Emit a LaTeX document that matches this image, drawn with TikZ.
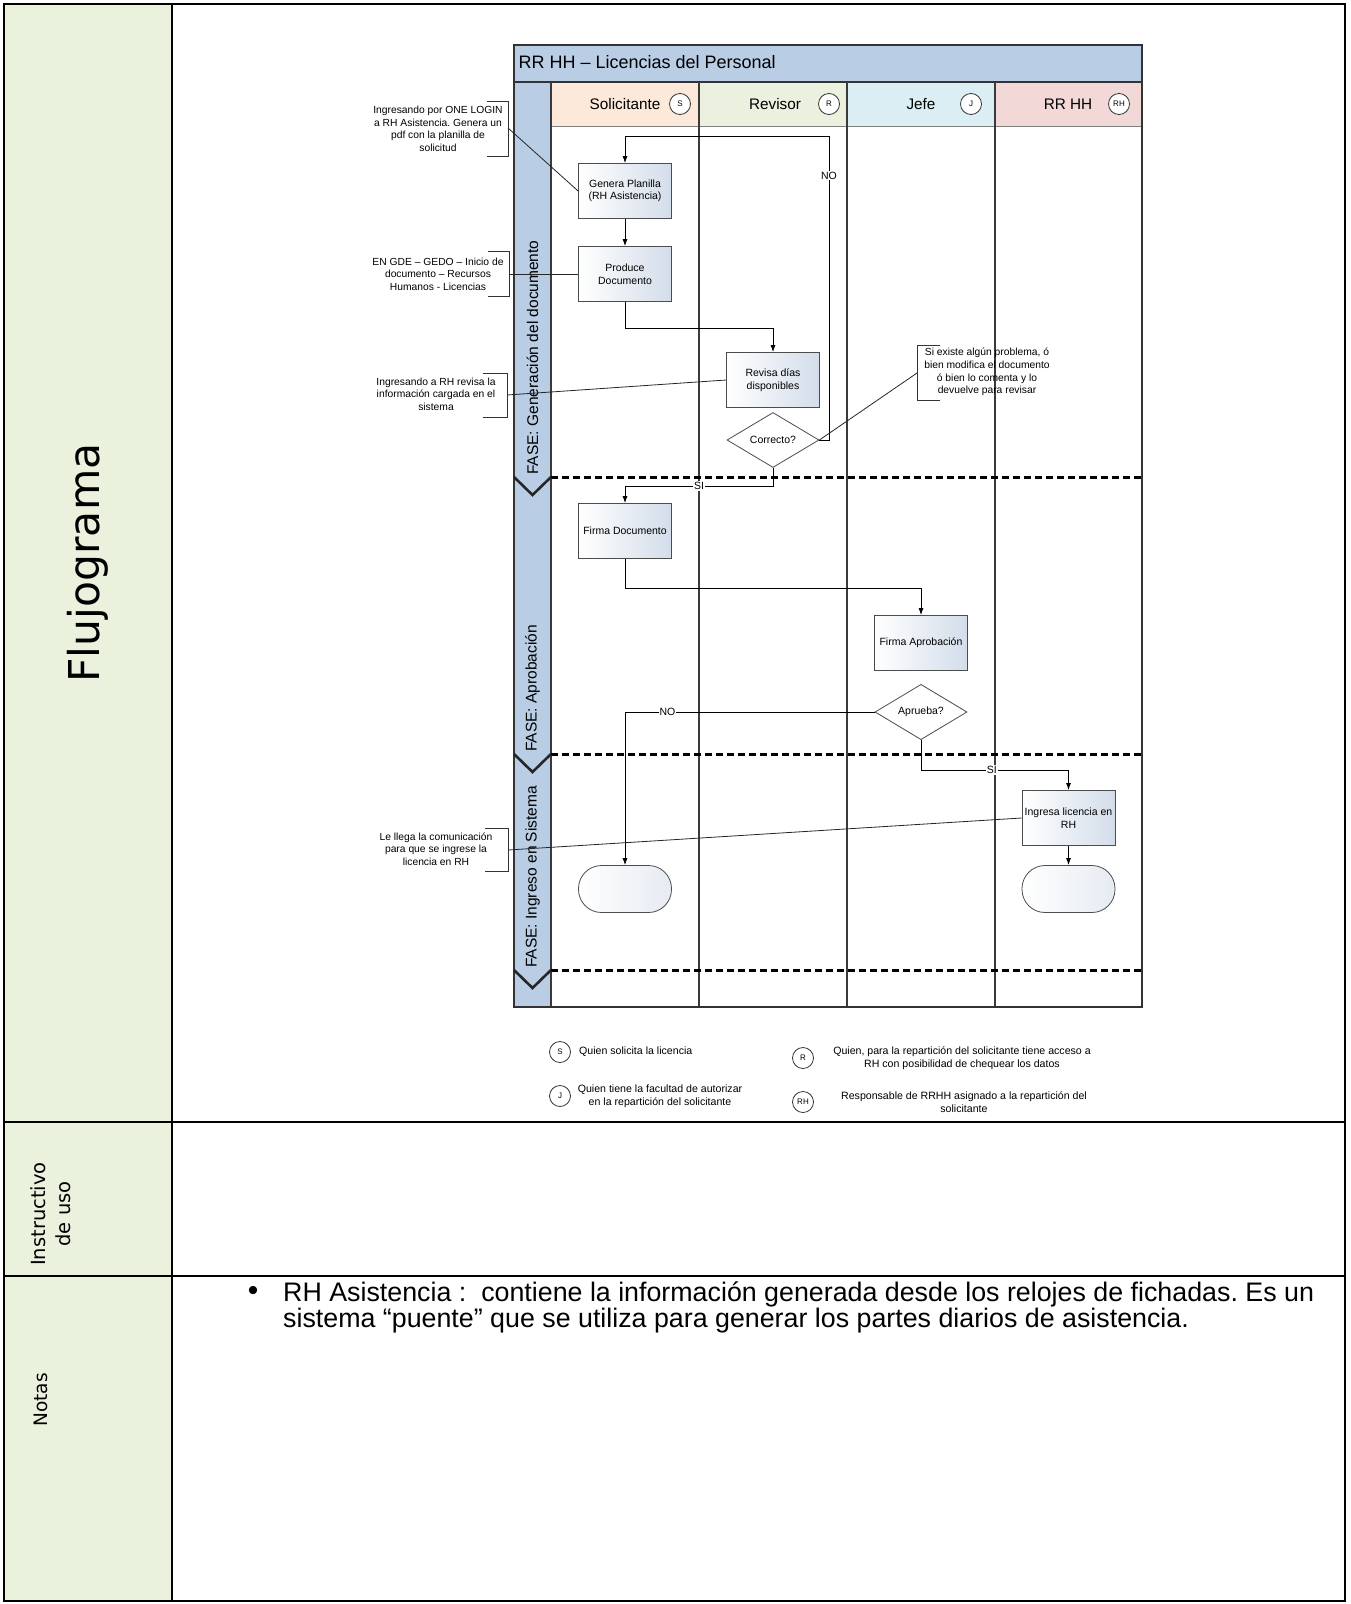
\documentclass[tikz,border=0pt]{standalone}
\usepackage{fontspec}
\setmainfont{Liberation Sans}
\newfontfamily\verd{DejaVu Sans}
\usetikzlibrary{shapes.geometric,arrows.meta,calc}
\definecolor{leftgreen}{HTML}{EAF1DD}
\definecolor{poolblue}{HTML}{B9CDE5}
\definecolor{hsol}{HTML}{FCE9DA}
\definecolor{hrev}{HTML}{EBF1DE}
\definecolor{hjef}{HTML}{DAEEF3}
\definecolor{hrh}{HTML}{F2D9D8}
\definecolor{boxend}{HTML}{D3DDEA}
\definecolor{termfill}{HTML}{E6EBF2}
\definecolor{lanegray}{HTML}{3A3A3A}
\newcommand\fsz[2]{\fontsize{#1}{#2}\selectfont}
\frenchspacing
\begin{document}
\begin{tikzpicture}[x=1pt,y=-1pt,
  tableline/.style={line width=2.2pt,black},
  laneline/.style={line width=1.6pt,lanegray},
  phaseline/.style={line width=3pt,black,dash pattern=on 7pt off 4pt},
  chev/.style={line width=2.6pt,black!85,line join=miter},
  procbox/.style={draw=black!70,line width=0.8pt,left color=white,right color=boxend,
     minimum width=93pt,minimum height=55pt,align=center,inner sep=1pt,font=\fsz{10.5}{12.5}},
  decision/.style={diamond,draw=black!70,line width=0.8pt,fill=white,
     minimum width=92pt,minimum height=55pt,inner sep=0pt,font=\fsz{10.5}{12.5}},
  termbox/.style={draw=black!70,line width=0.8pt,left color=white,right color=termfill,
     rounded corners=23pt,minimum width=93pt,minimum height=47pt},
  conn/.style={draw=black,line width=0.8pt,-{Latex[length=7pt,width=5pt]}},
  lbl/.style={fill=white,inner sep=1pt,font=\fsz{10.5}{12}},
  who/.style={circle,draw=black!80,line width=0.8pt,fill=white,minimum size=21pt,inner sep=0pt,font=\fsz{8}{8}},
  lanehead/.style={font=\fsz{15.3}{17}},
  phase/.style={rotate=90,anchor=west,inner sep=0pt,font=\fsz{15.5}{17}},
  note/.style={align=center,inner sep=0pt,font=\fsz{10.3}{12.6}},
  brk/.style={line width=0.9pt,black!80},
  callout/.style={line width=0.8pt,black!85},
  legtext/.style={align=center,inner sep=0pt,font=\fsz{10.6}{13.5}}
]
\useasboundingbox (0,0) rectangle (1351,1604);
% ---------- table ----------
\fill[leftgreen] (4,4) rectangle (172,1601);
\draw[tableline] (4,4) rectangle (1345,1601);
\draw[tableline] (172,4) -- (172,1601);
\draw[tableline] (4,1122) -- (1345,1122);
\draw[tableline] (4,1276) -- (1345,1276);
\node[rotate=90,font=\verd\fsz{42.5}{46}] (flujo) at (88,563) {Flujograma};
\node[rotate=90,align=center,font=\verd\fsz{19.5}{25}] (instr) at (51,1214) {Instructivo\\de uso};
\node[rotate=90,font=\verd\fsz{18.5}{22}] (notas) at (41,1400) {Notas};
\node[font=\fsz{30}{30}] (bul) at (253,1293) {\textbullet};
\node[anchor=north west,align=left,inner sep=0pt,font=\fsz{26.8}{26}] (notetxt) at (283,1282)
  {RH Asistencia :\ \ contiene la información generada desde los relojes de fichadas. Es un\\
   sistema “puente” que se utiliza para generar los partes diarios de asistencia.};
% ---------- pool ----------
\fill[poolblue] (514,45) rectangle (1142,82);
\fill[poolblue] (514,82) rectangle (551,1007);
\fill[hsol] (551,82) rectangle (699,126);
\fill[hrev] (699,82) rectangle (847,126);
\fill[hjef] (847,82) rectangle (995,126);
\fill[hrh] (995,82) rectangle (1142,126);
\draw[line width=0.6pt,black!50] (551,126) -- (1142,126);
\draw[line width=1.2pt,black!80] (514,82) -- (1142,82);
\foreach \xx in {551,699,847,995} \draw[laneline] (\xx,82) -- (\xx,1007);
\draw[line width=1.4pt,black!80] (514,45) rectangle (1142,1007);
\node[anchor=west,font=\fsz{18}{20}] (title) at (515,62) {RR HH – Licencias del Personal};
\node[lanehead] (hS) at (625,104) {Solicitante};
\node[lanehead] (hR) at (775,104) {Revisor};
\node[lanehead] (hJ) at (921,104) {Jefe};
\node[lanehead] (hH) at (1068,104) {RR HH};
\node[who] (cS) at (680,104) {S};
\node[who] (cR) at (829,104) {R};
\node[who] (cJ) at (971,104) {J};
\node[who] (cH) at (1119,104) {RH};
% phases
\foreach \yy in {477,754,970} {
  \draw[phaseline] (551,\yy) -- (1142,\yy);
  \draw[chev] (514,\yy) -- (532.5,\yy+18) -- (551,\yy);
}
\node[phase] (ph1) at (532.5,475) {FASE: Generación del documento};
\node[phase] (ph2) at (532.5,752) {FASE: Aprobación};
\node[phase] (ph3) at (532.5,968) {FASE: Ingreso en Sistema};
% ---------- flow ----------
\node[procbox] (genera) at (625,191) {Genera Planilla\\(RH Asistencia)};
\node[procbox] (produce) at (625,274) {Produce\\Documento};
\node[procbox] (revisa) at (773,380) {Revisa días\\disponibles};
\node[decision] (correcto) at (773,440) {Correcto?};
\node[procbox] (firmadoc) at (625,531) {Firma Documento};
\node[procbox] (firmaaprob) at (921,643) {Firma Aprobación};
\node[decision] (aprueba) at (921,712) {Aprueba?};
\node[procbox] (ingresa) at (1068.5,818) {Ingresa licencia en\\RH};
\node[termbox] (termL) at (625,889) {};
\node[termbox] (termR) at (1068.5,889) {};
\coordinate (noR) at (829,440);
\coordinate (noT) at (829,136);
\draw[conn] (correcto.east) -- (noR) -- node[lbl,pos=0.87]{NO} (noT) -| (genera.north);
\draw[conn] (genera) -- (produce);
\draw[conn] (produce.south) -- ++(0,26) -| (revisa.north);
\draw[conn] (correcto.south) -- ++(0,18) -| node[lbl,pos=0.25]{SI} (firmadoc.north);
\draw[conn] (firmadoc.south) -- ++(0,29) -| (firmaaprob.north);
\draw[conn] (aprueba.west) -| node[lbl,pos=0.415]{NO} (termL.north);
\draw[conn] (aprueba.south) -- ++(0,30) -| node[lbl,pos=0.24]{SI} (ingresa.north);
\draw[conn] (ingresa) -- (termR);
% ---------- callouts ----------
\node[note] (n1) at (438,129) {Ingresando por ONE LOGIN\\a RH Asistencia. Genera un\\pdf con la planilla de\\solicitud};
\draw[brk] (487,101) -- (508,101) -- (508,156) -- (487,156);
\coordinate (b1) at (508,128);
\draw[callout] (b1) -- (genera.west);
\node[note] (n2) at (438,274) {EN GDE – GEDO – Inicio de\\documento – Recursos\\Humanos - Licencias};
\draw[brk] (488,251) -- (509,251) -- (509,296) -- (488,296);
\coordinate (b2) at (509,274);
\draw[callout] (b2) -- (produce.west);
\node[note] (n3) at (436,394) {Ingresando a RH revisa la\\información cargada en el\\sistema};
\draw[brk] (483,373) -- (507,373) -- (507,417) -- (483,417);
\coordinate (b3) at (507,395);
\draw[callout] (b3) -- (revisa.west);
\node[note] (n4) at (987,372) {Si existe algún problema, ó\\bien modifica el documento\\ó bien lo comenta y lo\\devuelve para revisar};
\draw[brk] (940,345) -- (917,345) -- (917,400) -- (940,400);
\coordinate (b4) at (917,373);
\draw[callout] (b4) -- (correcto.east);
\node[note] (n5) at (436,849) {Le llega la comunicación\\para que se ingrese la\\licencia en RH};
\draw[brk] (485,828) -- (508,828) -- (508,871) -- (485,871);
\coordinate (b5) at (508,850);
\draw[callout] (b5) -- (ingresa.west);
% ---------- legend ----------
\node[who] (lS) at (560,1052) {S};
\node[legtext,anchor=west] (tS) at (579,1052) {Quien solicita la licencia};
\node[who] (lJ) at (560,1096) {J};
\node[legtext] (tJ) at (660,1096) {Quien tiene la facultad de autorizar\\en la repartición del solicitante};
\node[who] (lR) at (803,1058) {R};
\node[legtext] (tR) at (962,1058) {Quien, para la repartición del solicitante tiene acceso a\\RH con posibilidad de chequear los datos};
\node[who] (lH) at (803,1102) {RH};
\node[legtext] (tH) at (964,1102) {Responsable de RRHH asignado a la repartición del\\solicitante};
\end{tikzpicture}
\end{document}
